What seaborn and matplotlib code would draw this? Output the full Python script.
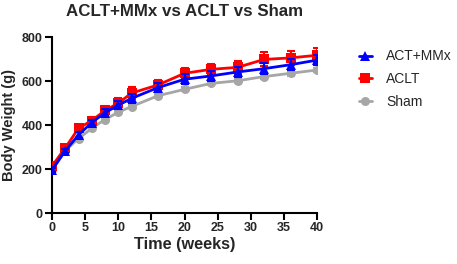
import pandas as pd
import numpy as np
import matplotlib
matplotlib.use("Agg")
import matplotlib.pyplot as plt
import seaborn as sns

weeks = [0, 2, 4, 6, 8, 10, 12, 16, 20, 24, 28, 32, 36, 40]
mmx = [195, 283, 355, 411, 456, 490, 521, 570, 608, 623, 641, 656, 674, 695]
aclt = [213, 296, 385, 420, 466, 499, 545, 582, 635, 653, 662, 698, 705, 717]
sham = [195, 284, 338, 385, 425, 458, 484, 533, 562, 589, 601, 620, 635, 650]
mmx_err = [8, 10, 12, 14, 16, 18, 20, 20, 22, 22, 22, 24, 24, 24]
aclt_err = [10, 12, 16, 18, 20, 24, 26, 24, 24, 26, 28, 32, 32, 34]
sham_err = [5, 6, 6, 7, 7, 8, 8, 8, 9, 9, 9, 10, 10, 10]

groups = ["ACT+MMx", "ACLT", "Sham"]
colors = {"ACT+MMx": "#0000ff", "ACLT": "#ff0000", "Sham": "#a6a6a6"}
markers = {"ACT+MMx": "^", "ACLT": "s", "Sham": "o"}

df = pd.DataFrame({
    "week": weeks * 3,
    "weight": mmx + aclt + sham,
    "err": mmx_err + aclt_err + sham_err,
    "group": ["ACT+MMx"] * len(weeks) + ["ACLT"] * len(weeks) + ["Sham"] * len(weeks),
})

sns.set_style("ticks")
plt.rcParams["font.family"] = ["Liberation Sans", "DejaVu Sans"]

fig = plt.figure(figsize=(4.57, 2.64), dpi=100)
ax = fig.add_axes([52 / 457, 1 - 213 / 264, 265 / 457, 176 / 264])

# draw order: sham at back, then aclt, mmx on top
zs = {"Sham": 2, "ACLT": 3, "ACT+MMx": 4}
for g in ["Sham", "ACLT", "ACT+MMx"]:
    d = df[df["group"] == g]
    sns.lineplot(data=d, x="week", y="weight", color=colors[g], marker=markers[g],
                 markersize=6.5, markeredgewidth=0, linewidth=2, ax=ax, label=g, zorder=zs[g])
    ax.errorbar(d["week"], d["weight"], yerr=d["err"], fmt="none",
                ecolor=colors[g], elinewidth=1.5, capsize=3, capthick=1.5, zorder=zs[g] + 0.5)

ax.set_xlim(0, 40)
ax.set_ylim(0, 800)
ax.set_xticks(range(0, 41, 5))
ax.set_yticks(range(0, 801, 200))
for s in ["top", "right"]:
    ax.spines[s].set_visible(False)
for s in ["left", "bottom"]:
    ax.spines[s].set_linewidth(1.5)
    ax.spines[s].set_color("black")
    ax.spines[s].set_clip_on(False)
ax.tick_params(axis="both", width=1.5, length=5, color="black", labelsize=9, pad=1.5)
for lab in ax.get_xticklabels() + ax.get_yticklabels():
    lab.set_fontweight("bold")
ax.set_xlabel("Time (weeks)", fontsize=11.7, fontweight="bold", labelpad=2)
ax.set_ylabel("Body Weight (g)", fontsize=10.5, fontweight="bold", labelpad=4)
fig.text(184 / 457, 1 - 12 / 264, "ACLT+MMx vs ACLT vs Sham", ha="center", va="center",
         fontsize=12.2, fontweight="bold")

handles, labels = ax.get_legend_handles_labels()
order = [labels.index(g) for g in groups]
ax.legend([handles[i] for i in order], groups, loc="upper left",
          bbox_to_anchor=(346 / 457, 1 - 37 / 264), bbox_transform=fig.transFigure,
          frameon=False, fontsize=10, handlelength=1.0, labelspacing=0.62, handletextpad=1.0)

fig.savefig("out.png", dpi=100)
